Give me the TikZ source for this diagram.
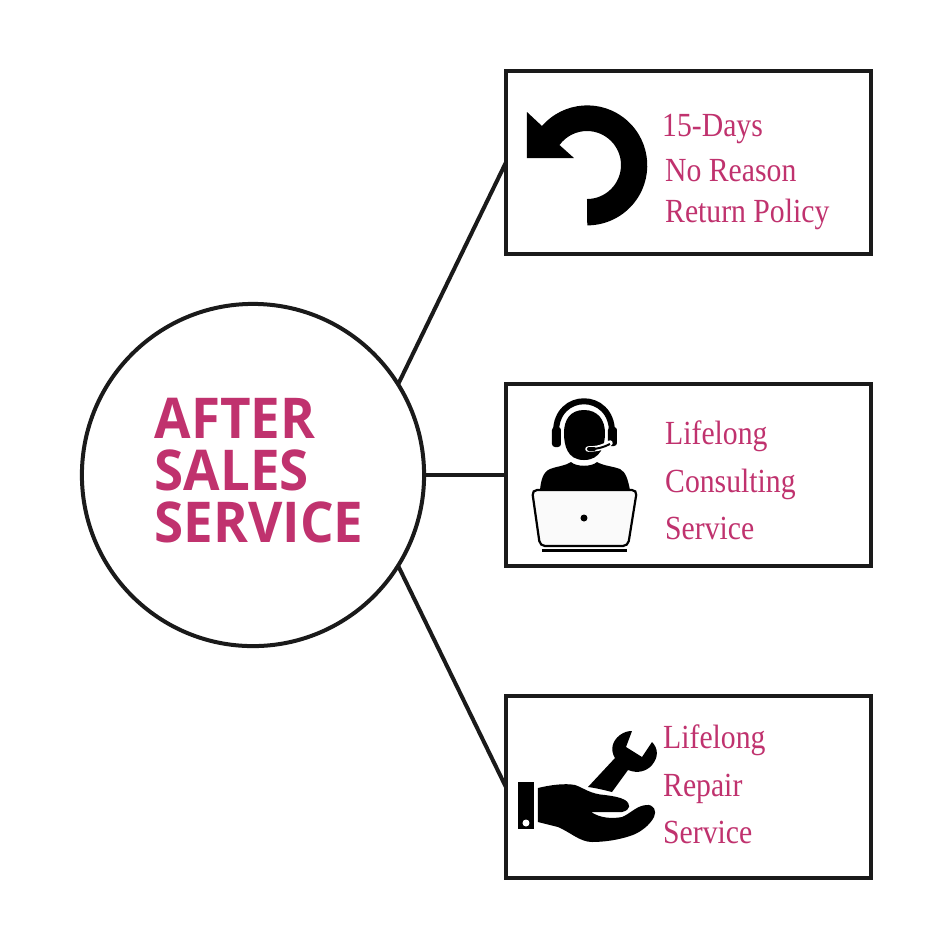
\documentclass[tikz,border=0pt]{standalone}
\usepackage{fontspec}
\usepackage{xcolor}
\setmainfont[FakeStretch=0.88]{Liberation Serif}
\newfontfamily\hubfont[FakeStretch=0.94]{Open Sans}
\usetikzlibrary{positioning}
\definecolor{mypink}{HTML}{C0326E}
\definecolor{myline}{HTML}{1A1A1A}
\tikzset{
  % Nodes
  node hub/.style={circle,draw=myline,line width=0.04cm,fill=white,minimum size=3.42cm,inner sep=0,outer sep=0},
  node box/.style={rectangle,draw=myline,line width=0.04cm,fill=white,minimum width=3.65cm,minimum height=1.82cm,inner sep=0,outer sep=0},
  node title/.style={mypink,font=\hubfont\bfseries\fontsize{16}{14.8}\selectfont,align=left,inner sep=0},
  node text/.style={mypink,font=\fontsize{9.6}{11}\selectfont,anchor=base west,inner sep=0},
  % Connections
  connect/.style={line width=0.04cm,myline},
  icon/.style={fill=black,draw=none}
}
\begin{document}
\begin{tikzpicture}[x=0.01cm,y=-0.01cm]
    \useasboundingbox[fill=white] (0,0) rectangle (950,950);
    % Hub and boxes
    \node[node hub] (hub) at (253,475) {};
    \node[node box] (box return) at (688.5,162.5) {};
    \node[node box] (box consult) at (688.5,475) {};
    \node[node box] (box repair) at (688.5,787) {};
    \node[node title] (title) at (259,471) {AFTER\\SALES\\SERVICE};
    % Connectors
    \draw[connect] (hub.32) -- (box return.west);
    \draw[connect] (hub.east) -- (box consult.west);
    \draw[connect] (hub.-32) -- (box repair.west);
    % Box texts
    \node[node text] (days) at (661.5,136) {15-Days};
    \node[node text] (reason) at (664.5,181) {No Reason};
    \node[node text] (policy) at (664.5,222) {Return Policy};
    \node[node text] (life a) at (664.5,444) {Lifelong};
    \node[node text] (consulting) at (664.5,492) {Consulting};
    \node[node text] (service a) at (664.5,539) {Service};
    \node[node text] (life b) at (662.5,748) {Lifelong};
    \node[node text] (repair) at (662.5,796) {Repair};
    \node[node text] (service b) at (662.5,843) {Service};
    % Return arrow
    \fill[icon] (527,112) -- (542,126) arc[start angle=221,end angle=450,radius=60]
      -- (587,199) arc[start angle=450,end angle=216,radius=34]
      -- (574,158) -- (527,158) -- cycle;
    % Headset and laptop
    \draw[line width=0.06cm] (556,432) .. controls (556,391) and (612,391) .. (612,432);
    \fill[icon,rounded corners=0.03cm] (552,427) rectangle (561,447);
    \fill[icon,rounded corners=0.03cm] (608,427) rectangle (617,446);
    \fill[icon] (584,410) .. controls (598,410) and (605,420) .. (605,433)
      .. controls (605,445) and (601,460) .. (584,460)
      .. controls (567,460) and (564,445) .. (564,433)
      .. controls (564,420) and (570,410) .. (584,410) -- cycle;
    \draw[white,line width=0.055cm,line cap=round] (588,449) .. controls (598,449) and (604,447) .. (610,443);
    \draw[line width=0.02cm] (591,449) .. controls (598,449) and (604,447) .. (610,444);
    \draw[line width=0.04cm,line cap=round] (589,449) -- (594,449);
    \fill[icon] (540,490) .. controls (541,480) and (543,472) .. (550,469)
      .. controls (558,466) and (565,466) .. (571,462)
      .. controls (576,467) and (592,467) .. (597,462)
      .. controls (604,466) and (612,466) .. (620,469)
      .. controls (626,472) and (628,480) .. (630,490) -- cycle;
    \draw[line width=0.022cm,fill=black!2,rounded corners=0.05cm] (532,490) -- (637,490) -- (628,546) -- (540,546) -- cycle;
    \draw[line width=0.025cm] (542,550.5) -- (627,550.5);
    \fill[icon] (584,518) circle[radius=3.5];
    % Hand and wrench
    \fill[icon] (632,731) -- (626,747) -- (642,757) -- (652,742)
      .. controls (658,748) and (659,757) .. (652,765)
      .. controls (647,771) and (638,774) .. (628,770)
      -- (612,792) .. controls (604,790) and (596,788) .. (588,787)
      -- (615,758) .. controls (610,750) and (612,741) .. (620,735)
      .. controls (624,732) and (628,731) .. (632,731) -- cycle;
    \fill[icon] (518,782) rectangle (534,829);
    \fill[white] (526,823) circle[radius=3.5];
    \fill[icon] (538,788) .. controls (550,785) and (565,783) .. (575,785)
      .. controls (584,788) and (590,794) .. (605,795)
      .. controls (612,796) and (620,797) .. (625,800)
      .. controls (631,804) and (631,810) .. (622,812)
      -- (591,812) .. controls (600,818) and (612,819) .. (622,817)
      .. controls (630,814) and (636,806) .. (646,805)
      .. controls (654,804) and (657,811) .. (654,817)
      .. controls (650,825) and (640,833) .. (630,836)
      .. controls (618,840) and (604,842) .. (592,842)
      .. controls (580,842) and (570,832) .. (558,827)
      -- (538,822) -- cycle;
\end{tikzpicture}
\end{document}
